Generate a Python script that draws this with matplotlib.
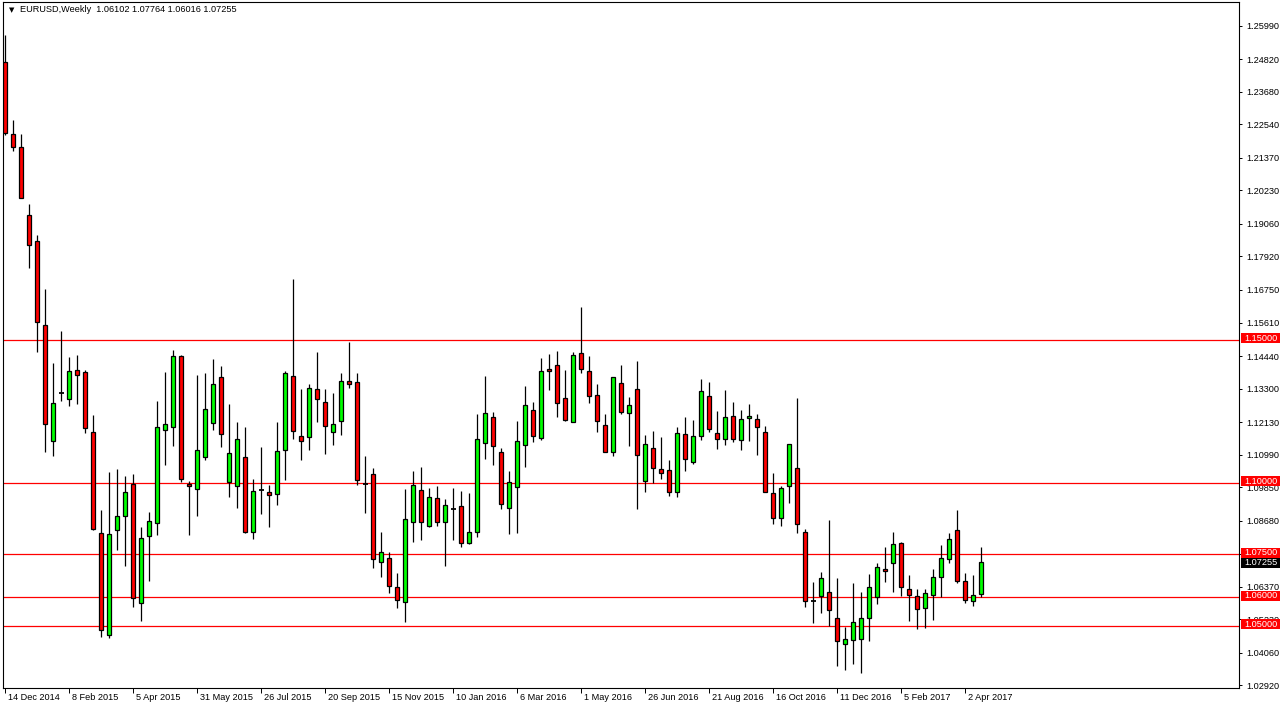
import matplotlib
matplotlib.use('Agg')
import matplotlib.pyplot as plt
import matplotlib.transforms as mtransforms
from matplotlib.patches import Rectangle
import numpy as np

# ---------------- data (EURUSD weekly, one value per week from 14 Dec 2014) ----------------
opens = [1.2472, 1.2221, 1.2175, 1.1937, 1.1846, 1.1553, 1.1147, 1.1313, 1.1293, 1.1395,
         1.1388, 1.1179, 1.0825, 1.0468, 1.0836, 1.0885, 1.0998, 1.0580, 1.0814, 1.0860,
         1.1185, 1.1196, 1.1444, 1.0998, 1.0979, 1.1090, 1.1210, 1.1371, 1.1003, 1.0990,
         1.1091, 1.0829, 1.0977, 1.0969, 1.0962, 1.1115, 1.1374, 1.1164, 1.1161, 1.1329,
         1.1283, 1.1178, 1.1217, 1.1357, 1.1353, 1.0998, 1.1031, 1.0724, 1.0738, 1.0636,
         1.0584, 1.0864, 1.0976, 1.0850, 1.0948, 1.0864, 1.0910, 1.0920, 1.0790, 1.0829,
         1.1140, 1.1231, 1.1108, 1.0913, 1.0986, 1.1133, 1.1255, 1.1157, 1.1399, 1.1413,
         1.1297, 1.1213, 1.1455, 1.1392, 1.1308, 1.1203, 1.1108, 1.1350, 1.1245, 1.1329,
         1.1007, 1.1122, 1.1049, 1.1045, 1.0969, 1.1171, 1.1073, 1.1164, 1.1304, 1.1175,
         1.1153, 1.1233, 1.1149, 1.1226, 1.1223, 1.1177, 1.0964, 1.0876, 1.0988, 1.1051,
         1.0827, 1.0589, 1.0606, 1.0618, 1.0527, 1.0436, 1.0450, 1.0453, 1.0527, 1.0603,
         1.0701, 1.0719, 1.0789, 1.0628, 1.0606, 1.0562, 1.0607, 1.0673, 1.0733, 1.0834,
         1.0659, 1.0586, 1.06102]
highs = [1.2568, 1.2270, 1.2221, 1.1977, 1.1867, 1.1680, 1.1421, 1.1530, 1.1442, 1.1449,
         1.1395, 1.1239, 1.0905, 1.1039, 1.1049, 1.1026, 1.1033, 1.0847, 1.0899, 1.1288,
         1.1389, 1.1466, 1.1449, 1.1008, 1.1378, 1.1386, 1.1435, 1.1409, 1.1276, 1.1213,
         1.1196, 1.1014, 1.1127, 1.0994, 1.1213, 1.1392, 1.1713, 1.1330, 1.1347, 1.1459,
         1.1330, 1.1316, 1.1386, 1.1493, 1.1386, 1.1096, 1.1054, 1.0830, 1.0759, 1.0686,
         1.0980, 1.1043, 1.1057, 1.0983, 1.0991, 1.0944, 1.0983, 1.0972, 1.0965, 1.1241,
         1.1374, 1.1248, 1.1122, 1.1042, 1.1218, 1.1340, 1.1284, 1.1437, 1.1451, 1.1462,
         1.1395, 1.1458, 1.1615, 1.1444, 1.1346, 1.1241, 1.1371, 1.1413, 1.1301, 1.1427,
         1.1168, 1.1182, 1.1161, 1.1080, 1.1196, 1.1231, 1.1220, 1.1364, 1.1353, 1.1252,
         1.1325, 1.1283, 1.1255, 1.1276, 1.1241, 1.1198, 1.1034, 1.0988, 1.1135, 1.1296,
         1.0838, 1.0653, 1.0688, 1.0869, 1.0667, 1.0498, 1.0649, 1.0618, 1.0681, 1.0719,
         1.0775, 1.0828, 1.0792, 1.0680, 1.0631, 1.0631, 1.0698, 1.0782, 1.0825, 1.0904,
         1.0687, 1.0677, 1.07764]
lows = [1.2216, 1.2160, 1.1995, 1.1750, 1.1459, 1.1110, 1.1093, 1.1288, 1.1269, 1.1275,
        1.1174, 1.0835, 1.0460, 1.0457, 1.0764, 1.0709, 1.0565, 1.0516, 1.0656, 1.0817,
        1.1062, 1.1128, 1.1002, 1.0817, 1.0883, 1.1079, 1.1184, 1.1125, 1.0950, 1.0911,
        1.0825, 1.0804, 1.0890, 1.0845, 1.0922, 1.1012, 1.1153, 1.1082, 1.1117, 1.1212,
        1.1101, 1.1132, 1.1167, 1.1331, 1.0993, 1.0894, 1.0702, 1.0670, 1.0615, 1.0562,
        1.0513, 1.0793, 1.0800, 1.0846, 1.0850, 1.0709, 1.0800, 1.0775, 1.0786, 1.0810,
        1.1083, 1.1062, 1.0909, 1.0820, 1.0825, 1.1055, 1.1142, 1.1150, 1.1325, 1.1231,
        1.1217, 1.1213, 1.1385, 1.1280, 1.1177, 1.1108, 1.1094, 1.1241, 1.1129, 1.0908,
        1.0969, 1.1000, 1.1014, 1.0955, 1.0951, 1.1042, 1.1066, 1.1150, 1.1178, 1.1120,
        1.1134, 1.1145, 1.1117, 1.1148, 1.1099, 1.0967, 1.0855, 1.0848, 1.0931, 1.0826,
        1.0565, 1.0512, 1.0547, 1.0500, 1.0361, 1.0347, 1.0368, 1.0337, 1.0449, 1.0578,
        1.0655, 1.0620, 1.0606, 1.0518, 1.0490, 1.0494, 1.0522, 1.0600, 1.0719, 1.0651,
        1.0579, 1.0569, 1.06016]
closes = [1.2223, 1.2174, 1.1998, 1.1832, 1.1562, 1.1207, 1.1279, 1.1313, 1.1392, 1.1378,
          1.1193, 1.0839, 1.0486, 1.0822, 1.0885, 1.0969, 1.0598, 1.0808, 1.0867, 1.1196,
          1.1206, 1.1444, 1.1014, 1.0990, 1.1115, 1.1259, 1.1346, 1.1171, 1.1105, 1.1154,
          1.0829, 1.0972, 1.0977, 1.0957, 1.1112, 1.1385, 1.1182, 1.1146, 1.1332, 1.1294,
          1.1199, 1.1206, 1.1357, 1.1346, 1.1010, 1.0998, 1.0733, 1.0759, 1.0640, 1.0592,
          1.0874, 1.0993, 1.0864, 1.0951, 1.0864, 1.0923, 1.0910, 1.0790, 1.0829, 1.1154,
          1.1245, 1.1129, 1.0927, 1.1004, 1.1148, 1.1273, 1.1164, 1.1392, 1.1392, 1.1280,
          1.1220, 1.1448, 1.1399, 1.1304, 1.1217, 1.1108, 1.1371, 1.1248, 1.1273, 1.1098,
          1.1136, 1.1052, 1.1035, 1.0969, 1.1175, 1.1084, 1.1164, 1.1322, 1.1189, 1.1154,
          1.1230, 1.1153, 1.1223, 1.1233, 1.1195, 1.0967, 1.0876, 1.0981, 1.1135, 1.0855,
          1.0586, 1.0589, 1.0667, 1.0555, 1.0446, 1.0453, 1.0513, 1.0527, 1.0635, 1.0705,
          1.0694, 1.0785, 1.0638, 1.0610, 1.0558, 1.0617, 1.0670, 1.0736, 1.0803, 1.0656,
          1.0590, 1.0610, 1.07255]

date_labels = ['14 Dec 2014', '8 Feb 2015', '5 Apr 2015', '31 May 2015', '26 Jul 2015',
               '20 Sep 2015', '15 Nov 2015', '10 Jan 2016', '6 Mar 2016', '1 May 2016',
               '26 Jun 2016', '21 Aug 2016', '16 Oct 2016', '11 Dec 2016', '5 Feb 2017',
               '2 Apr 2017']
date_label_weeks = [0, 8, 16, 24, 32, 40, 48, 56, 64, 72, 80, 88, 96, 104, 112, 120]

price_ticks = [1.25990, 1.24820, 1.23680, 1.22540, 1.21370, 1.20230, 1.19060, 1.17920,
               1.16750, 1.15610, 1.14440, 1.13300, 1.12130, 1.10990, 1.09850, 1.08680,
               1.07520, 1.06370, 1.05230, 1.04060, 1.02920]

levels = [1.15, 1.10, 1.075, 1.06, 1.05]
symbol = 'EURUSD,Weekly'

# ---------------- figure ----------------
W, H = 1281, 712
fig = plt.figure(figsize=(W / 100, H / 100), dpi=100)
fig.patch.set_facecolor('white')
AX_L, AX_R, AX_T, AX_B = 3, 1239, 2, 688
ax = fig.add_axes([AX_L / W, (H - AX_B) / H, (AX_R - AX_L) / W, (AX_B - AX_T) / H])
ax.set_facecolor('white')

FONT = ['Liberation Sans', 'DejaVu Sans']
FS = 6.6

o = np.array(opens); h = np.array(highs); l = np.array(lows); c = np.array(closes)
x = np.arange(len(o))

YMIN, YMAX = 1.02832, 1.26818
ax.set_xlim(-0.29, 154.2)
ax.set_ylim(YMIN, YMAX)
px = (YMAX - YMIN) / (AX_B - AX_T)   # price per pixel

# level lines
for lv in levels:
    ax.axhline(lv, color='#FF0000', lw=0.9, zorder=1)

# wicks
ax.vlines(x, l, h, colors='black', linewidth=0.9, zorder=2)

doji = np.isclose(o, c, atol=1e-6)
body = ~doji
bull = c >= o
colors = np.where(bull, '#00FF00', '#FF0000')
ax.bar(x[body], np.abs(c - o)[body], bottom=np.minimum(o, c)[body], width=0.5,
       color=colors[body], edgecolor='black', linewidth=0.9, zorder=3)
ax.hlines(o[doji], x[doji] - 0.32, x[doji] + 0.32, colors='black', linewidth=1.3, zorder=3)

# spines
for s in ax.spines.values():
    s.set_color('black')
    s.set_linewidth(0.8)

# x axis
ax.set_xticks(date_label_weeks)
ax.tick_params(axis='x', direction='out', length=3.6, width=0.7, labelbottom=False)
xt = mtransforms.offset_copy(ax.get_xaxis_transform(), fig=fig, x=3, y=-5, units='dots')
for wk, lab in zip(date_label_weeks, date_labels):
    ax.text(wk, 0, lab, transform=xt, ha='left', va='top', fontsize=FS, family=FONT,
            color='black')

# y axis on right
ax.yaxis.tick_right()
ax.set_yticks(price_ticks)
ax.set_yticklabels(['%.5f' % v for v in price_ticks])
ax.tick_params(axis='y', direction='out', length=2.5, width=0.7, pad=2.5,
               labelsize=FS, labelcolor='black')
for t in ax.get_yticklabels():
    t.set_family(FONT)

# price boxes on the price axis
ytr = ax.get_yaxis_transform()
bx0 = (1241 - AX_L) / (AX_R - AX_L)
bw = (1280 - 1241) / (AX_R - AX_L)
txt_tr = mtransforms.offset_copy(ytr, fig=fig, x=5, y=0, units='dots')


def price_box(val, center, color, z):
    ax.add_patch(Rectangle((bx0, center - 5 * px), bw, 10 * px, transform=ytr,
                           facecolor=color, edgecolor='none', clip_on=False, zorder=z))
    ax.text(1.0, center, '%.5f' % val, transform=txt_tr, ha='left', va='center',
            fontsize=FS, family=FONT, color='white', zorder=z + 0.5, clip_on=False)


price_box(closes[-1], closes[-1] - 1.0 * px, 'black', 10)
for lv in levels:
    price_box(lv, lv + 1.5 * px, '#FF0000', 12)

# header
fig.text(9 / W, 1 - 10 / H, '\u25BC', fontsize=5, family=['DejaVu Sans'], ha='left',
         va='center', color='black')
header = '%s  %.5f %.5f %.5f %.5f' % (symbol, opens[-1], highs[-1], lows[-1], closes[-1])
fig.text(20.5 / W, 1 - 10 / H, header, fontsize=FS, family=FONT, ha='left', va='center',
         color='black')

fig.savefig('out.png', dpi=100, facecolor='white')
